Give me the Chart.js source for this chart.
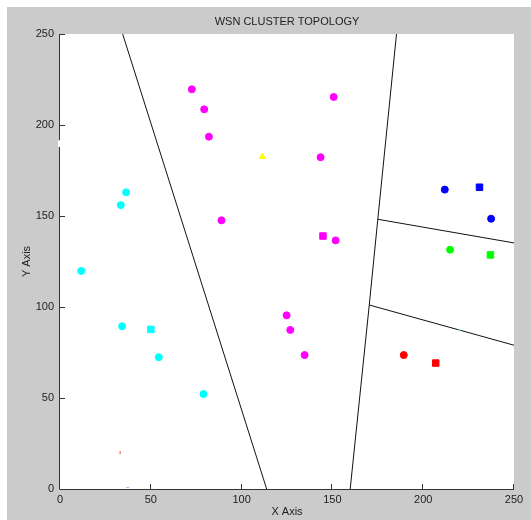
<!DOCTYPE html>
<html>
<head>
<meta charset="utf-8">
<style>
html,body{margin:0;padding:0;background:#fff;}
#wrap{width:531px;height:520px;position:relative;}
</style>
<script src="https://cdn.jsdelivr.net/npm/chart.js@4.4.1/dist/chart.umd.min.js"></script>
</head>
<body>
<div id="wrap"><canvas id="c"></canvas></div>
<script>
const chartTitle = 'WSN CLUSTER TOPOLOGY';
const xTitle = 'X Axis';
const yTitle = 'Y Axis';
const xTicks = [0, 50, 100, 150, 200, 250];
const yTicks = [0, 50, 100, 150, 200, 250];

const cyanNodes = [[11.7,119.8],[33.5,156],[36.4,163],[34.2,89.4],[54.4,72.4],[79.0,52.2]];
const cyanHead = [[50.0,87.7]];
const magentaNodes = [[72.6,219.6],[79.4,208.6],[82,193.6],[88.9,147.6],[150.7,215.4],[143.5,182.3],[151.8,136.6],[124.8,95.4],[126.8,87.4],[134.7,73.6]];
const magentaHead = [[144.8,139]];
const blueNodes = [[211.9,164.5],[237.4,148.5]];
const blueHead = [[231,165.8]];
const greenNodes = [[214.8,131.5]];
const greenHead = [[237,128.6]];
const redNodes = [[189.3,73.6]];
const redHead = [[206.9,69.2]];
const sinkNode = [[111.5,182.6]];
const deadRed = [[33.1,20]];
const deadCyan = [[220,87.4]];
const deadBlue = [[37.3,0.8]];

const boundary1 = [[34.5,250],[113.8,0]];
const boundary2 = [[185.3,250],[175,148.2],[170.3,101.1],[159.8,0]];
const boundary3 = [[175,148.2],[250,135.2]];
const boundary4 = [[170.3,101.1],[250,79]];

const toPts = a => a.map(p => ({x:p[0], y:p[1]}));

function nodes(data, color, style, r){
  return {data: toPts(data), pointStyle: style, pointRadius: r, pointHoverRadius: r,
    backgroundColor: color, borderColor: color, borderWidth: 1, showLine: false, order: 1};
}
function line(data){
  return {data: toPts(data), showLine: true, pointRadius: 0, pointHoverRadius: 0,
    borderColor: '#111', borderWidth: 1, fill: false, order: 5, tension: 0};
}

Chart.defaults.font.family = '"Liberation Sans", Arial, sans-serif';
Chart.defaults.font.size = 11;
Chart.defaults.color = '#222';

const figPlugin = {
  id: 'fig',
  beforeDraw(chart){
    const ctx = chart.ctx, W = chart.width, H = chart.height, a = chart.chartArea;
    ctx.save();
    ctx.fillStyle = '#ffffff';
    ctx.fillRect(0,0,W,H);
    ctx.fillStyle = '#cbcbcb';
    ctx.fillRect(7,7,W-7,H-7);
    ctx.fillStyle = '#ffffff';
    ctx.fillRect(a.left, a.top, a.right-a.left, a.bottom-a.top);
    ctx.restore();
  },
  afterDraw(chart){
    const ctx = chart.ctx, a = chart.chartArea;
    const xs = chart.scales.x, ys = chart.scales.y;
    ctx.save();
    ctx.strokeStyle = '#333';
    ctx.lineWidth = 1;
    ctx.beginPath();
    // bottom axis
    ctx.moveTo(a.left, a.bottom + 0.5);
    ctx.lineTo(a.right, a.bottom + 0.5);
    // left axis (with small rendering gap as in the reference)
    const g1 = ys.getPixelForValue(191.5), g2 = ys.getPixelForValue(188);
    ctx.moveTo(a.left - 0.5, a.bottom + 0.5);
    ctx.lineTo(a.left - 0.5, g2);
    ctx.moveTo(a.left - 0.5, g1);
    ctx.lineTo(a.left - 0.5, a.top);
    // inward ticks
    xTicks.forEach(v => {
      const px = Math.round(xs.getPixelForValue(v)) - 0.5;
      ctx.moveTo(px, a.bottom);
      ctx.lineTo(px, a.bottom - 5);
    });
    yTicks.forEach(v => {
      const py = Math.round(ys.getPixelForValue(v)) + 0.5;
      ctx.moveTo(a.left, py);
      ctx.lineTo(a.left + 5, py);
    });
    ctx.stroke();
    ctx.fillStyle = '#ffffff';
    ctx.fillRect(a.left - 2, g1, 3, g2 - g1);
    // titles
    ctx.fillStyle = '#222';
    ctx.font = '11px "Liberation Sans", Arial, sans-serif';
    ctx.textAlign = 'center';
    ctx.textBaseline = 'middle';
    const cx = (a.left + a.right) / 2;
    ctx.fillText(chartTitle, cx, 22);
    ctx.fillText(xTitle, cx, a.bottom + 23);
    ctx.translate(27, (a.top + a.bottom) / 2);
    ctx.rotate(-Math.PI/2);
    ctx.fillText(yTitle, 0, 0);
    ctx.restore();
  }
};

new Chart(document.getElementById('c'), {
  type: 'scatter',
  data: {
    datasets: [
      line(boundary1), line(boundary2), line(boundary3), line(boundary4),
      nodes(cyanNodes, '#00ffff', 'circle', 3.5),
      nodes(cyanHead, '#00ffff', 'rect', 4.6),
      nodes(magentaNodes, '#ff00ff', 'circle', 3.5),
      nodes(magentaHead, '#ff00ff', 'rect', 4.6),
      nodes(blueNodes, '#0000ff', 'circle', 3.5),
      nodes(blueHead, '#0000ff', 'rect', 4.6),
      nodes(greenNodes, '#00ff00', 'circle', 3.5),
      nodes(greenHead, '#00ff00', 'rect', 4.6),
      nodes(redNodes, '#ff0000', 'circle', 3.5),
      nodes(redHead, '#ff0000', 'rect', 4.6),
      nodes(sinkNode, '#ffff00', 'triangle', 3.5),
      {data: toPts(deadRed), pointStyle: 'line', rotation: 90, pointRadius: 1.5, borderColor: '#ff4040', borderWidth: 1, order: 1},
      {data: toPts(deadCyan), pointStyle: 'line', pointRadius: 1.5, borderColor: '#80ffff', borderWidth: 1, order: 0},
      {data: toPts(deadBlue), pointStyle: 'line', pointRadius: 1.5, borderColor: '#b0b0ff', borderWidth: 1, order: 1}
    ]
  },
  options: {
    responsive: true,
    maintainAspectRatio: false,
    animation: false,
    events: [],
    layout: {padding: {top: 34, right: 17, left: 0, bottom: 0}},
    plugins: {legend: {display: false}, tooltip: {enabled: false}, title: {display: false}},
    scales: {
      x: {
        type: 'linear', min: 0, max: 250,
        afterFit(s){ s.height = 31; },
        afterBuildTicks(s){ s.ticks = xTicks.map(v => ({value: v})); },
        grid: {display: false, drawTicks: false},
        border: {display: false},
        ticks: {padding: 4, color: '#222', maxRotation: 0, autoSkip: false}
      },
      y: {
        type: 'linear', min: 0, max: 250,
        afterFit(s){ s.width = 60; },
        afterBuildTicks(s){ s.ticks = yTicks.map(v => ({value: v})); },
        grid: {display: false, drawTicks: false},
        border: {display: false},
        ticks: {padding: 6, color: '#222', autoSkip: false}
      }
    }
  },
  plugins: [figPlugin]
});
</script>
</body>
</html>
